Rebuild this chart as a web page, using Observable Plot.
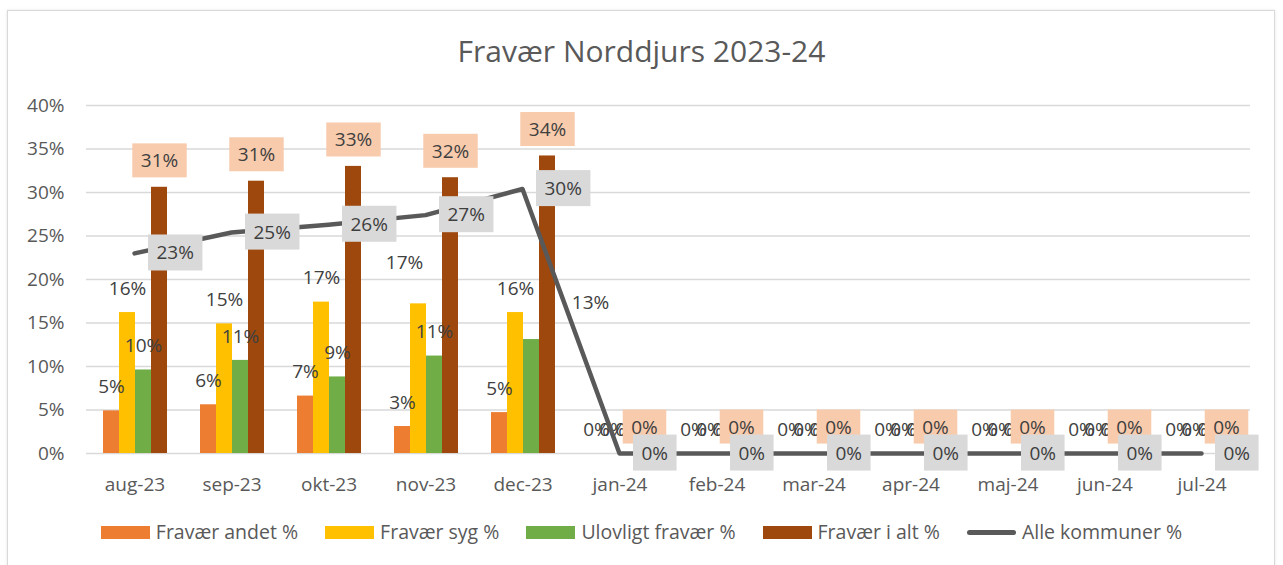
<!DOCTYPE html>
<html><head><meta charset="utf-8">
<script src="https://cdn.jsdelivr.net/npm/d3@7"></script>
<script src="https://cdn.jsdelivr.net/npm/@observablehq/plot@0.6"></script>
<style>
body{margin:0;background:#fff;font-family:"Open Sans",sans-serif;}
#frame{position:absolute;left:7px;top:10px;width:1266px;height:600px;border:1px solid #d9d9d9;box-shadow:0 0 3px rgba(0,0,0,0.10);}
#title{position:absolute;left:0;top:36px;width:1283px;text-align:center;font-size:30px;line-height:29px;color:#595959;}
#bars,#line{position:absolute;left:0;top:90px;}
#line{pointer-events:none;}
#legend{position:absolute;left:0;top:522px;width:1283px;display:flex;justify-content:center;gap:27px;font-size:19.5px;line-height:20px;color:#595959;}
.item{display:flex;align-items:center;gap:6px}
.sw{width:49px;height:13px}
.ln{width:49px;height:5px;border-radius:3px}
</style></head><body>
<div id="frame"></div>
<div id="title"></div>
<div id="bars"></div>
<div id="line"></div>
<div id="legend"></div>
<script>
const title = "Fravær Norddjurs 2023-24";
const months = ["aug-23","sep-23","okt-23","nov-23","dec-23","jan-24","feb-24","mar-24","apr-24","maj-24","jun-24","jul-24"];
const seriesNames = ["Fravær andet %","Fravær syg %","Ulovligt fravær %","Fravær i alt %"];
const lineName = "Alle kommuner %";
const andet    = [4.9, 5.6, 6.6, 3.1, 4.7, 0, 0, 0, 0, 0, 0, 0];
const syg      = [16.2, 14.9, 17.4, 17.2, 16.2, 0, 0, 0, 0, 0, 0, 0];
const ulovligt = [9.6, 10.7, 8.8, 11.2, 13.1, 0, 0, 0, 0, 0, 0, 0];
const iAlt     = [30.6, 31.3, 33.0, 31.7, 34.2, 0, 0, 0, 0, 0, 0, 0];
const alle     = [23.0, 25.4, 26.3, 27.4, 30.4, 0, 0, 0, 0, 0, 0, 0];
const yTicks = [0,5,10,15,20,25,30,35,40];
const colors = ["#ED7D31","#FFC000","#70AD47","#9E480E"];
const lineColor = "#595959";

const seriesValues = [andet, syg, ulovligt, iAlt];
const table = [];
months.forEach((m,i)=>seriesValues.forEach((vals,s)=>table.push({month:m, series:seriesNames[s], value:vals[i]})));
const lineData = months.map((m,i)=>({month:m, value:alle[i]}));
const fmt = d => Math.round(d.value) + "%";

const isMovedSyg = d => d.month==="nov-23" && d.series===seriesNames[1];
const isMovedUlov = d => d.month==="dec-23" && d.series===seriesNames[2];
const small = table.filter(d => d.series!==seriesNames[3] && !isMovedSyg(d) && !isMovedUlov(d));
const peach = table.filter(d => d.series===seriesNames[3]);

const labelInk = "#404040";
const peachInk = "#3f3f3f";
const greyInk = "#3e3e3e";

const W=1283, H=415;
const common = {width:W, height:H, marginTop:15, marginRight:33, marginBottom:52, marginLeft:85,
  style:{fontFamily:"Open Sans, sans-serif", fontSize:"19px", color:"#595959", background:"transparent", overflow:"visible"}};

const barsPlot = Plot.plot({
  ...common,
  fx:{domain:months, padding:0, label:null, axis:"bottom", tickSize:0, tickPadding:24},
  x:{domain:seriesNames, axis:null, paddingInner:0, paddingOuter:1.03},
  y:{domain:[0,40]},
  color:{domain:seriesNames, range:colors},
  marks:[
    Plot.gridY(yTicks,{stroke:"#d9d9d9", strokeOpacity:1, strokeWidth:1.5}),
    Plot.axisY(yTicks,{tickFormat:d=>d+"%", tickSize:0, tickPadding:22, label:null, fill:"#595959"}),
    Plot.barY(table,{fx:"month", x:"series", y:"value", fill:"series"}),
    Plot.text(small,{fx:"month", x:"series", y:"value", text:fmt, dy:-24, fill:labelInk}),
    Plot.text(table.filter(isMovedSyg),{fx:"month", x:"series", y:"value", text:fmt, dx:-14, dy:-41, fill:labelInk}),
    Plot.text(table.filter(isMovedUlov),{fx:"month", x:"series", y:"value", text:fmt, dx:59, dy:-37, fill:labelInk}),
    Plot.text(peach,{fx:"month", x:"series", y:"value", text:fmt, dy:-26, fill:peachInk})
  ]
});
document.getElementById("bars").appendChild(barsPlot);

const linePlot = Plot.plot({
  ...common,
  x:{type:"point", domain:months, padding:0.5, axis:null},
  y:{domain:[0,40], axis:null},
  marks:[
    Plot.line(lineData,{x:"month", y:"value", stroke:lineColor, strokeWidth:4.5}),
    Plot.text(lineData,{x:"month", y:"value", text:fmt, textAnchor:"start", dx:22, fill:greyInk})
  ]
});
document.getElementById("line").appendChild(linePlot);

function addBoxes(svg, ink, fill, padX, padY){
  svg.querySelectorAll("text").forEach(t=>{
    const f = (t.getAttribute("fill") || (t.parentNode && t.parentNode.getAttribute("fill")) || "").toLowerCase();
    if (f !== ink) return;
    const b = t.getBBox();
    const r = document.createElementNS("http://www.w3.org/2000/svg","rect");
    r.setAttribute("x", b.x - padX); r.setAttribute("y", b.y - padY);
    r.setAttribute("width", b.width + 2*padX); r.setAttribute("height", b.height + 2*padY);
    r.setAttribute("fill", fill);
    const tr = t.getAttribute("transform"); if (tr) r.setAttribute("transform", tr);
    t.parentNode.insertBefore(r, t);
  });
}
addBoxes(barsPlot, peachInk, "#F8CBAD", 8.5, 4);
addBoxes(linePlot, greyInk, "#D9D9D9", 8.5, 5);

document.getElementById("title").textContent = title;
const legend = document.getElementById("legend");
seriesNames.forEach((n,i)=>{
  const it = document.createElement("div"); it.className="item";
  it.innerHTML = `<span class="sw" style="background:${colors[i]}"></span><span>${n}</span>`;
  legend.appendChild(it);
});
const li = document.createElement("div"); li.className="item";
li.innerHTML = `<span class="ln" style="background:${lineColor}"></span><span>${lineName}</span>`;
legend.appendChild(li);
</script>
</body></html>
